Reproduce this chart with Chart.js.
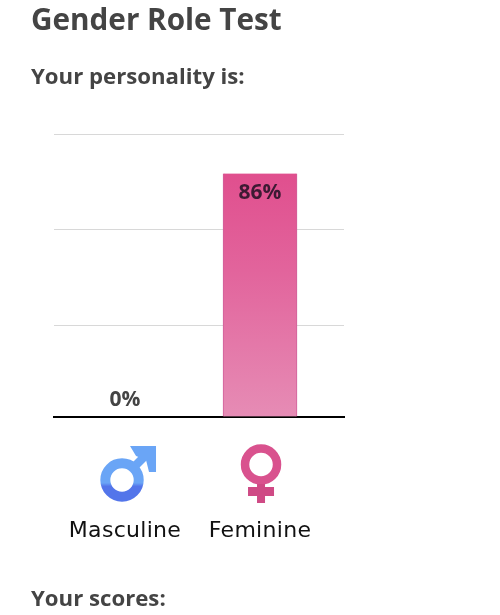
<!DOCTYPE html>
<html>
<head>
<meta charset="utf-8">
<script src="https://cdn.jsdelivr.net/npm/chart.js@4"></script>
<style>
  body { margin: 0; background: #fff; overflow: hidden; }
  .box { position: relative; width: 500px; height: 615px; }
  canvas { position: absolute; left: 0; top: 0; }
  h1, h2 { position: absolute; left: 31px; margin: 0; color: #444; font-family: "Open Sans", sans-serif; font-weight: 700; white-space: nowrap; line-height: 1; }
  h1 { font-size: 29.7px; top: 4px; }
  h2 { font-size: 22.2px; }
</style>
</head>
<body>
<div class="box">
  <canvas id="c" width="500" height="615"></canvas>
  <h1>Gender Role Test</h1>
  <h2 style="top:65px">Your personality is:</h2>
  <h2 style="top:587px">Your scores:</h2>
</div>
<script>
const categories = ["Masculine", "Feminine"];
const scores = [0, 86];
const gridTicks = [0, 32.5, 66.2, 100];

// little gender icons under the bars, drawn around the tick position
function drawMars(c, x, y) {
  let g = c.createLinearGradient(0, y - 34, 0, y + 22);
  g.addColorStop(0, "#6aa5f6");
  g.addColorStop(0.66, "#6aa5f6");
  g.addColorStop(0.72, "#5375ea");
  g.addColorStop(1, "#5375ea");
  c.strokeStyle = g;
  c.fillStyle = g;
  c.lineWidth = 10;
  c.beginPath();
  c.arc(x - 3, y, 16.7, 0, Math.PI * 2);
  c.stroke();
  c.lineWidth = 8.5;
  c.beginPath();
  c.moveTo(x + 8, y - 12);
  c.lineTo(x + 22, y - 26);
  c.stroke();
  c.beginPath();
  c.moveTo(x + 5, y - 34);
  c.lineTo(x + 31, y - 34);
  c.lineTo(x + 31, y - 8);
  c.lineTo(x + 24, y - 8);
  c.lineTo(x + 21, y - 20);
  c.lineTo(x + 11, y - 24);
  c.closePath();
  c.fill();
}

function drawVenus(c, x, y) {
  c.strokeStyle = "#d9528e";
  c.fillStyle = "#cf4a85";
  c.lineWidth = 8.5;
  c.beginPath();
  c.arc(x + 1, y - 15.5, 16, 0, Math.PI * 2);
  c.stroke();
  c.fillRect(x - 3, y + 4, 8, 19);
  c.fillRect(x - 12, y + 7, 26, 9);
}

const decorations = {
  id: "decorations",
  beforeDraw(chart) {
    chart.ctx.letterSpacing = "0.3px";
  },
  afterDraw(chart) {
    const c = chart.ctx;
    const xs = chart.scales.x;
    const ys = chart.scales.y;
    c.letterSpacing = "0px";
    c.save();
    drawMars(c, xs.getPixelForValue(0), 480);
    drawVenus(c, xs.getPixelForValue(1), 480);
    c.textAlign = "center";
    c.textBaseline = "middle";
    c.font = "700 21px 'Open Sans'";
    scores.forEach(function (v, i) {
      const inside = v > 10;
      c.fillStyle = inside ? "#3d1a33" : "#444";
      const py = ys.getPixelForValue(v) + (inside ? 19 : -17);
      c.fillText(v + "%", xs.getPixelForValue(i), py);
    });
    c.restore();
  }
};

new Chart(document.getElementById("c").getContext("2d"), {
  type: "bar",
  data: {
    datasets: [{
      data: scores.map(function (v, i) { return { x: i, y: v }; }),
      barThickness: 74,
      borderWidth: { left: 1, right: 1, top: 0, bottom: 0 },
      borderColor: "#d0609a",
      backgroundColor: function (ctx) {
        const area = ctx.chart.chartArea;
        if (!area) return "#e0528f";
        const top = ctx.chart.scales.y.getPixelForValue(86);
        const g = ctx.chart.ctx.createLinearGradient(0, top, 0, area.bottom);
        g.addColorStop(0, "#e04f8e");
        g.addColorStop(0.4, "#e2649c");
        g.addColorStop(1, "#e68cb5");
        return g;
      }
    }]
  },
  options: {
    responsive: false,
    animation: false,
    layout: { padding: { left: 54, right: 156, top: 134, bottom: 0 } },
    plugins: { legend: { display: false }, tooltip: { enabled: false } },
    scales: {
      x: {
        type: "linear",
        offset: false,
        min: -0.526,
        max: 1.622,
        afterBuildTicks: function (axis) {
          axis.ticks = categories.map(function (n, i) { return { value: i }; });
        },
        afterFit: function (axis) {
          axis.height = 198;
          axis.paddingLeft = 0;
          axis.paddingRight = 0;
        },
        grid: { display: false },
        border: { color: "#000", width: 2 },
        ticks: {
          padding: 93,
          maxRotation: 0,
          color: "#111",
          font: { family: "DejaVu Sans", size: 22 },
          callback: function (v) { return categories[v]; }
        }
      },
      y: {
        min: 0,
        max: 100,
        afterBuildTicks: function (axis) {
          axis.ticks = gridTicks.map(function (v) { return { value: v }; });
        },
        afterFit: function (axis) { axis.width = 0; },
        grid: { color: "#d8d8d8", drawTicks: false },
        border: { display: false },
        ticks: { display: false }
      }
    }
  },
  plugins: [decorations]
});
</script>
</body>
</html>
